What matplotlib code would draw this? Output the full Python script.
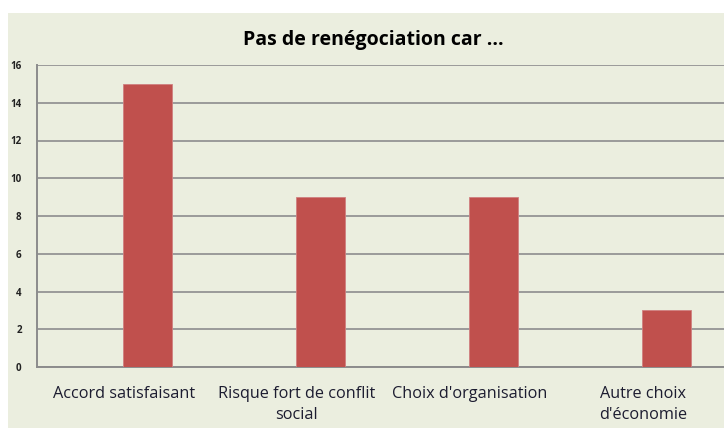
import matplotlib
matplotlib.use("Agg")
import matplotlib.pyplot as plt
from matplotlib.patches import Rectangle

categories = ["Accord satisfaisant", "Risque fort de conflit\nsocial",
              "Choix d'organisation", "Autre choix\nd'économie"]
values = [15, 9, 9, 3]
yticks = [0, 2, 4, 6, 8, 10, 12, 14, 16]

W, H = 724, 428
fig = plt.figure(figsize=(W / 100, H / 100), dpi=100, facecolor="white")
bg = "#EBEEDF"
bgax = fig.add_axes([8 / W, 0, 1 - 8 / W, (H - 13) / H])
bgax.set_facecolor(bg)
bgax.set_axis_off()
bgax.add_patch(Rectangle((0, 0), 1, 1, transform=bgax.transAxes, facecolor=bg,
                         edgecolor="none"))
bgax.set_zorder(-5)

ax = fig.add_axes([37 / W, (H - 367) / H, (729.5 - 37) / W, (367 - 65) / H])
ax.set_facecolor(bg)
x = list(range(len(categories)))
ax.bar([i - 0.006 for i in x], values, width=0.285, align="edge",
       color="#C0504D", edgecolor="#D08080", linewidth=0.6, zorder=3)
ax.set_xlim(-0.5, len(categories) - 0.5)
ax.set_ylim(0, 16)
ax.set_yticks(yticks)
ax.set_yticklabels([str(v) for v in yticks], fontsize=7, fontweight="bold",
                   family="Open Sans", color="#222222")
ax.tick_params(axis="y", length=0, pad=11)
ax.set_xticks(x)
ax.set_xticklabels(categories, fontsize=11.7, family="Open Sans", color="#1C1C30",
                   linespacing=1.4)
ax.tick_params(axis="x", length=0, pad=13.5)
ax.grid(axis="y", color="#9A9A9A", linewidth=1.4, zorder=1)
ax.set_axisbelow(True)
for s in ["top", "right"]:
    ax.spines[s].set_visible(False)
for s in ["left", "bottom"]:
    ax.spines[s].set_color("#8C8C8C")
    ax.spines[s].set_linewidth(1.4)

fig.text(373 / W, 1 - 40 / H, "Pas de renégociation car ...", ha="center", va="center",
         fontsize=14, fontweight="bold", family="Open Sans", color="#000000")

fig.savefig("out.png", dpi=100, facecolor="white")
